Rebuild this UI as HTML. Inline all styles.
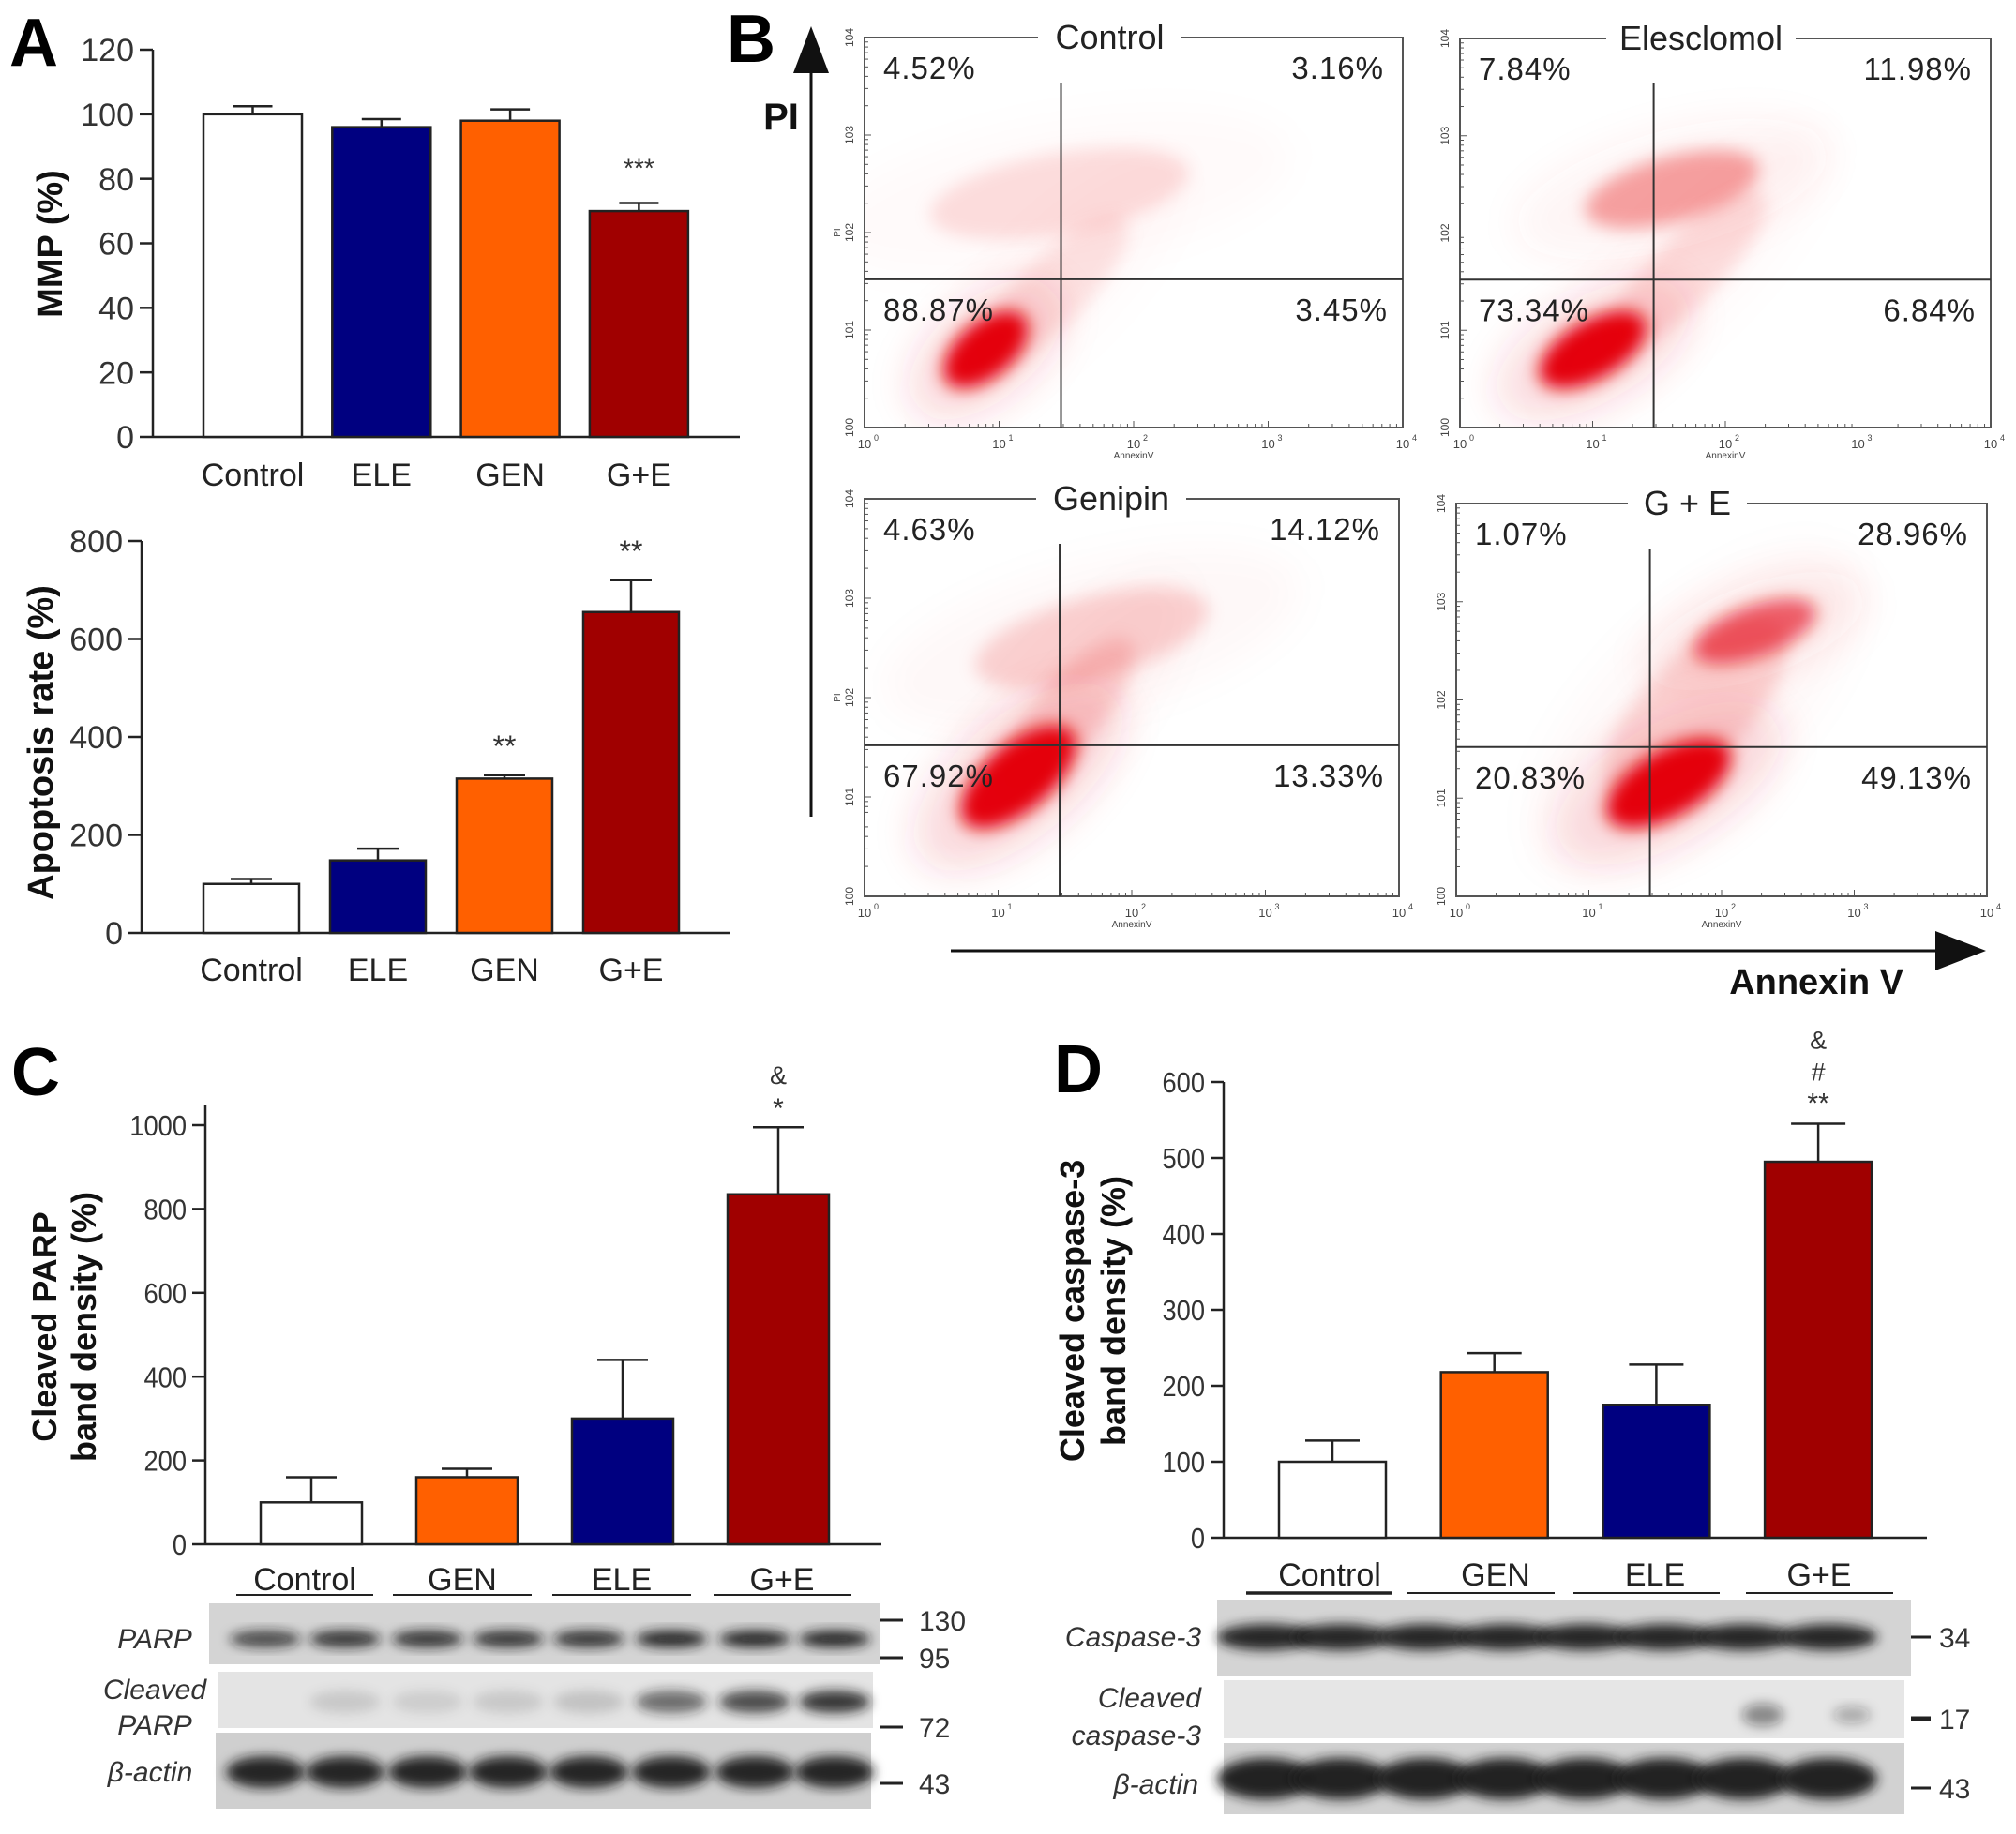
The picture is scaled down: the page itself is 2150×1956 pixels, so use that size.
<!DOCTYPE html>
<html><head><meta charset="utf-8"><title>Figure</title>
<style>
html,body{margin:0;padding:0;background:#fff;}
svg{display:block;font-family:"Liberation Sans",Arial,sans-serif;}
</style></head>
<body>
<svg id="fig" xmlns="http://www.w3.org/2000/svg" width="2150" height="1956" viewBox="0 0 2150 1956">
<defs>
<filter id="blur6" x="-50%" y="-50%" width="200%" height="200%"><feGaussianBlur stdDeviation="6"/></filter>
<filter id="blur9" x="-50%" y="-50%" width="200%" height="200%"><feGaussianBlur stdDeviation="9"/></filter>
<filter id="blur20" x="-50%" y="-50%" width="200%" height="200%"><feGaussianBlur stdDeviation="20"/></filter>
</defs>
</svg>
<script>
// ---------- DATA ----------
const mmpCategories = ['Control','ELE','GEN','G+E'];
const mmpValues = [100,96,98,70];
const mmpErrors = [2.5,2.5,3.5,2.5];
const mmpTicks = [0,20,40,60,80,100,120];
const mmpSig = ['','','','***'];

const apoCategories = ['Control','ELE','GEN','G+E'];
const apoValues = [100,148,315,655];
const apoErrors = [10,24,7,65];
const apoTicks = [0,200,400,600,800];
const apoSig = ['','','**','**'];

const parpCategories = ['Control','GEN','ELE','G+E'];
const parpValues = [100,160,300,835];
const parpErrors = [60,20,140,160];
const parpTicks = [0,200,400,600,800,1000];
const parpSig = [[],[],[],['*','&']];

const caspCategories = ['Control','GEN','ELE','G+E'];
const caspValues = [100,218,175,495];
const caspErrors = [28,25,53,50];
const caspTicks = [0,100,200,300,400,500,600];
const caspSig = [[],[],[],['**','#','&']];

const barColors = {'Control':'#ffffff','ELE':'#000080','GEN':'#ff6000','G+E':'#a00000'};

// flow cytometry quadrant percentages [UL, UR, LL, LR]
const flowTitles = ['Control','Elesclomol','Genipin','G + E'];
const flowPercents = [
  ['4.52%','3.16%','88.87%','3.45%'],
  ['7.84%','11.98%','73.34%','6.84%'],
  ['4.63%','14.12%','67.92%','13.33%'],
  ['1.07%','28.96%','20.83%','49.13%']
];
// cell populations: [x decade, y decade, rx decade, ry decade, angle, density]
const flowClusters = [
  [[0.9,0.8,0.5,0.38,-40,1.0],[1.45,2.4,1.3,0.55,-10,0.12],[1.4,1.4,1.0,0.45,-45,0.1]],
  [[1.0,0.8,0.6,0.4,-30,1.0],[1.6,2.45,0.9,0.45,-15,0.35],[1.7,1.6,1.1,0.45,-45,0.12]],
  [[1.15,1.2,0.7,0.45,-40,1.0],[1.7,2.6,1.2,0.55,-15,0.16],[1.5,1.8,1.0,0.45,-50,0.14]],
  [[1.6,1.15,0.7,0.45,-30,1.0],[2.25,2.7,0.65,0.35,-20,0.6],[1.8,1.9,1.2,0.7,-45,0.14]]
];
// quadrant gate positions in decades [x, y]
const flowGates = [[1.46,1.52],[1.46,1.52],[1.46,1.52],[1.46,1.52]];
const decadeLabels = ['0','1','2','3','4'];

// ---------- HELPERS ----------
const NS='http://www.w3.org/2000/svg';
const svg=document.getElementById('fig');
const defs=svg.querySelector('defs');
function mk(tag,attrs,parent){const e=document.createElementNS(NS,tag);for(const k in attrs)e.setAttribute(k,attrs[k]);(parent||svg).appendChild(e);return e;}
function txt(str,attrs,parent){const t=mk('text',attrs,parent);t.textContent=str;return t;}

function barChart(g){
  const grp=mk('g',{});
  
  
  const yS=v=>g.y0-(v/g.max)*(g.y0-g.yMax);
  const ax=mk('line',{x1:g.ax,y1:g.axTop,x2:g.ax,y2:g.y0,stroke:'#222','stroke-width':2.5},grp);
  
  
  const bx=mk('line',{x1:g.ax,y1:g.y0,x2:g.axEnd,y2:g.y0,stroke:'#222','stroke-width':2.5},grp);
  
  
  g.ticks.forEach(t=>{
    const y=yS(t);
    const tk=mk('line',{x1:g.ax-14,y1:y,x2:g.ax,y2:y,stroke:'#222','stroke-width':2.5},grp);
    
    
    const tl=txt(String(t),{x:g.ax-20,y:y+g.tickFs*0.36,'text-anchor':'end','font-size':g.tickFs,fill:'#333',transform:g.narrow?`translate(${g.ax-20},0) scale(0.88,1) translate(${-(g.ax-20)},0)`:''},grp);
    
    
  });
  g.values.forEach((v,i)=>{
    const x=g.bx+i*g.step, c=x+g.bw/2, cat=g.cats[i];
    const top=yS(v), et=yS(v+g.errs[i]);
    const el=mk('line',{x1:c,y1:top,x2:c,y2:et,stroke:'#222','stroke-width':2.5},grp);
    
    
    const cap=mk('line',{x1:c-g.cap/2,y1:et,x2:c+g.cap/2,y2:et,stroke:'#222','stroke-width':2.5},grp);
    
    
    const r=mk('rect',{x:x,y:top,width:g.bw,height:g.y0-top,fill:barColors[cat],stroke:'#222','stroke-width':2.5},grp);
    
    
    const lx=g.labelCx?g.labelCx[i]:c;
    const lab=txt(cat,{x:lx,y:g.labelY,'text-anchor':'middle','font-size':g.catFs,fill:'#222'},grp);
    
    
    const sig=g.sig[i];
    const marks=Array.isArray(sig)?sig:(sig?[sig]:[]);
    marks.forEach((m,k)=>{
      const sy=et-g.sigGap-k*g.sigStep;
      const s=txt(m,{x:c,y:sy,'text-anchor':'middle','font-size':m.indexOf('*')>=0?g.sigFs:g.sigFs*0.9,fill:'#333'},grp);
      
      
    });
  });
  g.titleLines.forEach((ln,k)=>{
    const tx=g.titleX[k];
    const t=txt(ln,{x:tx,y:g.titleY,'text-anchor':'middle','font-size':g.titleFs,'font-weight':'bold',fill:'#111',transform:`rotate(-90 ${tx} ${g.titleY})`},grp);
    
    
  });
  return grp;
}

// ---------- PANEL LETTERS ----------
[['A',10,70],['B',775,66],['C',12,1168],['D',1124,1165]].forEach(p=>{
  const t=txt(p[0],{x:p[1],y:p[2],'font-size':72,'font-weight':'bold',fill:'#000'});
  
  
});

// ---------- PANEL A ----------
barChart({name:'mmp-chart',cats:mmpCategories,values:mmpValues,errs:mmpErrors,ticks:mmpTicks,sig:mmpSig,max:120,
  ax:163,axTop:53,axEnd:789,y0:466,yMax:53,bx:217,step:137.3,bw:105,cap:42,tickFs:34,catFs:34,labelY:518,
  sigGap:28,sigStep:30,sigFs:28,titleLines:['MMP (%)'],titleX:[66],titleY:260,titleFs:38});
barChart({name:'apoptosis-chart',cats:apoCategories,values:apoValues,errs:apoErrors,ticks:apoTicks,sig:apoSig,max:800,
  ax:151,axTop:577,axEnd:778,y0:995,yMax:577,bx:217,step:135,bw:102,cap:44,tickFs:34,catFs:34,labelY:1046,
  sigGap:20,sigStep:30,sigFs:32,titleLines:['Apoptosis rate (%)'],titleX:[56],titleY:792,titleFs:38});

// ---------- PANEL C ----------
barChart({name:'cleaved-parp-chart',cats:parpCategories,values:parpValues,errs:parpErrors,ticks:parpTicks,sig:parpSig,max:1000,
  ax:219,axTop:1178,axEnd:940,y0:1647,yMax:1200,bx:278,step:166,bw:108,cap:54,tickFs:31,catFs:34,narrow:true,
  labelY:1696,labelCx:[325,493,663,834],sigGap:10,sigStep:36,sigFs:30,
  titleLines:['Cleaved PARP','band density (%)'],titleX:[60,102],titleY:1415,titleFs:36});
// ---------- PANEL D ----------
barChart({name:'cleaved-caspase3-chart',cats:caspCategories,values:caspValues,errs:caspErrors,ticks:caspTicks,sig:caspSig,max:600,
  ax:1305,axTop:1154,axEnd:2055,y0:1640,yMax:1154,bx:1364,step:172.7,bw:114,cap:58,tickFs:31,catFs:34,narrow:true,
  labelY:1691,labelCx:[1418,1595,1765,1940],sigGap:12,sigStep:34,sigFs:30,
  titleLines:['Cleaved caspase-3','band density (%)'],titleX:[1156,1200],titleY:1398,titleFs:36});

// group underlines
[[252,398,1701],[419,567,1701],[589,737,1701],[761,908,1701],[1329,1485,1699],[1501,1658,1699],[1678,1834,1699],[1862,2019,1699]].forEach((u,i)=>{
  const l=mk('line',{x1:u[0],y1:u[2],x2:u[1],y2:u[2],stroke:'#222','stroke-width':i===4?3.5:2});
  
  
});

// ---------- WESTERN BLOTS ----------
function blotStrip(name,x,y,w,h,bg){
  const r=mk('rect',{x:x,y:y,width:w,height:h,fill:bg});
  
  
}
function band(cx,cy,rx,ry,op,filt){
  const e=mk('ellipse',{cx:cx,cy:cy,rx:rx,ry:ry,fill:'#1a1a1a','fill-opacity':op,filter:'url(#'+filt+')'});
  
  
}
// C blots
blotStrip('parp-blot',223,1710,716,65,'#d4d4d4');
blotStrip('cleaved-parp-blot',232,1783,699,60,'#e4e4e4');
blotStrip('beta-actin-blot-c',230,1848,699,81,'#cfcfcf');
const laneC=[283,368,456,542,628,716,805,890];
const parpDark=[0.75,0.85,0.85,0.85,0.85,0.95,0.95,0.95];
const cparpDark=[0.0,0.12,0.1,0.12,0.15,0.6,0.75,0.85];
laneC.forEach((c,i)=>{
  band(c,1748,38,9,parpDark[i],'blur6');
  if(cparpDark[i]>0) band(c,1815,38,12,cparpDark[i],'blur6');
  band(c,1890,42,17,0.92,'blur6');
});
// D blots
blotStrip('caspase3-blot',1298,1706,740,81,'#d4d4d4');
blotStrip('cleaved-caspase3-blot',1305,1792,726,62,'#e6e6e6');
blotStrip('beta-actin-blot-d',1305,1859,726,76,'#d2d2d2');
const laneD=[1350,1430,1520,1605,1690,1775,1860,1950];
laneD.forEach((c,i)=>{
  band(c,1746,52,14,0.95,'blur6');
  band(c,1897,52,22,0.97,'blur6');
});
band(1880,1829,22,12,0.45,'blur6');
band(1975,1829,20,9,0.3,'blur6');

// blot labels
[['PARP',165,1758,'middle'],['Cleaved',165,1812,'middle'],['PARP',165,1850,'middle'],['β-actin',160,1900,'middle'],
 ['Caspase-3',1281,1756,'end'],['Cleaved',1281,1821,'end'],['caspase-3',1281,1861,'end'],['β-actin',1278,1913,'end']].forEach(l=>{
  const t=txt(l[0],{x:l[1],y:l[2],'text-anchor':l[3],'font-size':30,'font-style':'italic',fill:'#333'});
  
  
});
// molecular weight markers
[['130',939,963,1728,980,3],['95',939,963,1768,980,3],['72',939,963,1842,980,3],['43',939,963,1902,980,3],
 ['34',2038,2059,1746,2068,3],['17',2038,2059,1833,2068,5],['43',2038,2059,1907,2068,3]].forEach(m=>{
  const l=mk('line',{x1:m[1],y1:m[3],x2:m[2],y2:m[3],stroke:'#222','stroke-width':m[5]});
  
  
  const t=txt(m[0],{x:m[4],y:m[3]+11,'font-size':30,fill:'#333'});
  
  
});

// ---------- PANEL B (flow cytometry) ----------
const flowBoxes=[[922,40,574,416],[1557,41,566,415],[922,532,570,424],[1553,537,566,419]];
const titleGaps=[[1107,1260],[1713,1915],[1105,1265],[1736,1863]];
flowBoxes.forEach((b,p)=>{
  const [bx,by,bw,bh]=b;
  const cp=mk('clipPath',{id:'clip'+p},defs);
  mk('rect',{x:bx,y:by,width:bw,height:bh},cp);
  const g=mk('g',{});
  
  
  const X=d=>bx+d/4*bw, Y=d=>by+bh-d/4*bh;
  const cg=mk('g',{'clip-path':'url(#clip'+p+')'},g);
  
  
  flowClusters[p].forEach((c,k)=>{
    const cx=X(c[0]),cy=Y(c[1]),rx=c[2]/4*bw,ry=c[3]/4*bh;
    const halo=mk('ellipse',{cx:cx,cy:cy,rx:rx*1.35,ry:ry*1.35,fill:'#e8323a','fill-opacity':c[5]*0.16,filter:'url(#blur20)',transform:`rotate(${c[4]} ${cx} ${cy})`},cg);
    
    
    const core=mk('ellipse',{cx:cx,cy:cy,rx:rx*0.75,ry:ry*0.75,fill:'#e4000c','fill-opacity':Math.min(1,c[5]),filter:'url(#blur9)',transform:`rotate(${c[4]} ${cx} ${cy})`},cg);
    
    
  });
  const [g0,g1]=titleGaps[p];
  const frame=mk('path',{d:`M${g0},${by} L${bx},${by} L${bx},${by+bh} L${bx+bw},${by+bh} L${bx+bw},${by} L${g1},${by}`,fill:'none',stroke:'#555','stroke-width':2},g);
  
  
  const t=txt(flowTitles[p],{x:(g0+g1)/2,y:by+12,'text-anchor':'middle','font-size':36,fill:'#222'},g);
  
  
  const gx=X(flowGates[p][0]), gy=Y(flowGates[p][1]);
  const vg=mk('line',{x1:gx,y1:by+48,x2:gx,y2:by+bh,stroke:'#333','stroke-width':2},g);
  
  
  const hg=mk('line',{x1:bx,y1:gy,x2:bx+bw,y2:gy,stroke:'#333','stroke-width':2},g);
  
  
  const pc=flowPercents[p];
  const yTop=by+44, yBot=gy+44;
  [[pc[0],bx+20,yTop,'start'],[pc[1],bx+bw-20,yTop,'end'],[pc[2],bx+20,yBot,'start'],[pc[3],bx+bw-16,yBot,'end']].forEach(q=>{
    const s=txt(q[0],{x:q[1],y:q[2],'text-anchor':q[3],'font-size':33,fill:'#222','letter-spacing':'1'},g);
    
    
  });
  for(let d=0;d<4;d++){for(let m=1;m<10;m++){
    const v=d+Math.log10(m), xx=X(v), yy=Y(v), L=m===1?7:4;
    const tb=mk('line',{x1:xx,y1:by+bh,x2:xx,y2:by+bh-L,stroke:'#555','stroke-width':1},g);
    
    
    const tl=mk('line',{x1:bx,y1:yy,x2:bx+L,y2:yy,stroke:'#555','stroke-width':1},g);
    
    
  }}
  decadeLabels.forEach((dl,i)=>{
    const xl=txt('10',{x:X(i),y:by+bh+22,'text-anchor':'middle','font-size':13,fill:'#444'},g);
    
    
    const xs=txt(dl,{x:X(i)+10,y:by+bh+14,'font-size':9,fill:'#444'},g);
    
    
    const yl=txt('10'+dl,{x:bx-12,y:Y(i),'text-anchor':'middle','font-size':12,fill:'#444',transform:`rotate(-90 ${bx-12} ${Y(i)})`},g);
    
    
  });
  const an=txt('AnnexinV',{x:X(2),y:by+bh+33,'text-anchor':'middle','font-size':10,fill:'#444'},g);
  
  
  if(p%2===0){
    const pi=txt('PI',{x:bx-26,y:Y(2),'text-anchor':'middle','font-size':10,fill:'#444',transform:`rotate(-90 ${bx-26} ${Y(2)})`},g);
    
    
  }
});
// big arrows
const va=mk('line',{x1:865,y1:871,x2:865,y2:70,stroke:'#111','stroke-width':3});


const vh=mk('polygon',{points:'865,28 846,78 884,78',fill:'#111'});


const pit=txt('PI',{x:833,y:138,'text-anchor':'middle','font-size':40,'font-weight':'bold',fill:'#111'});


const ha=mk('line',{x1:1014,y1:1014,x2:2070,y2:1014,stroke:'#111','stroke-width':3});


const hh=mk('polygon',{points:'2118,1014 2064,993 2064,1035',fill:'#111'});


const at=txt('Annexin V',{x:2030,y:1060,'text-anchor':'end','font-size':38,'font-weight':'bold',fill:'#111'});


</script>
</body></html>
